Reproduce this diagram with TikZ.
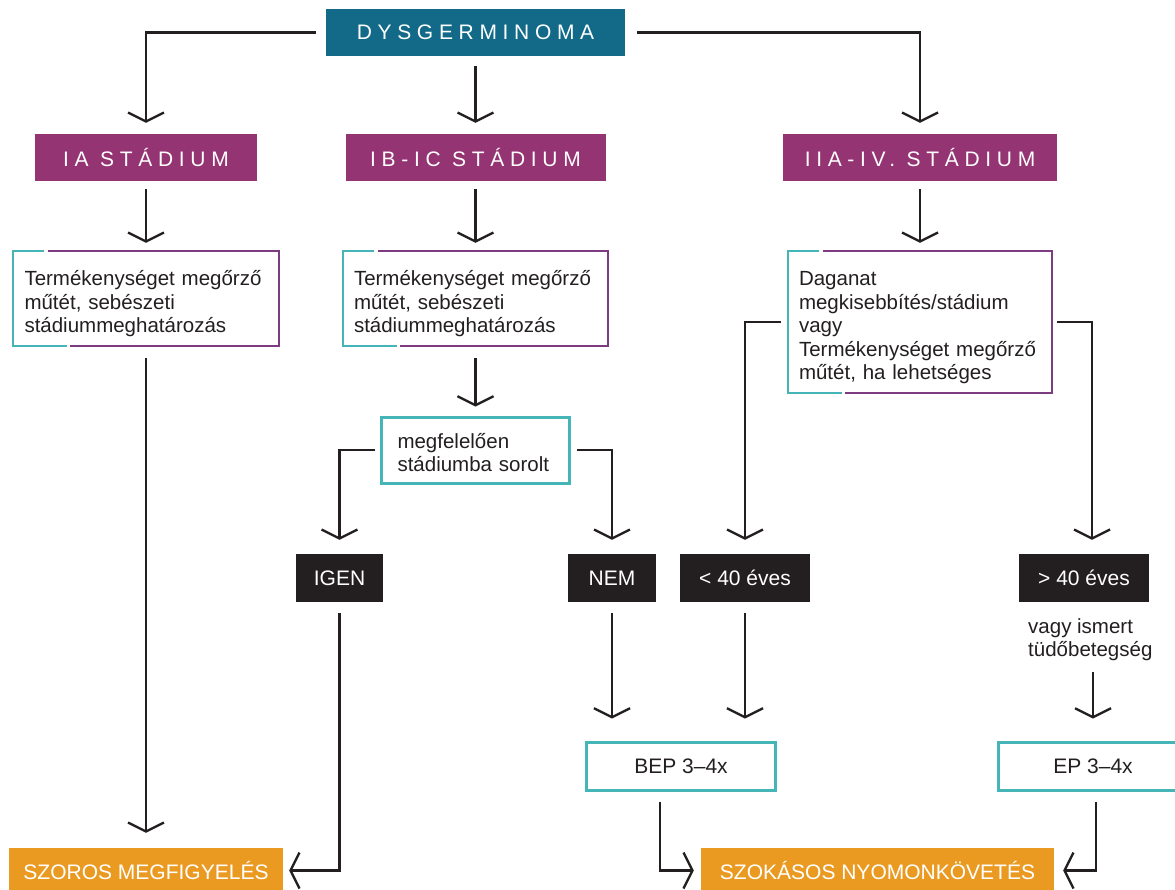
\documentclass[tikz,border=0pt]{standalone}
\usepackage{fontspec}
\setmainfont{Liberation Sans}
\newfontfamily\spacedfont[LetterSpace=27]{Liberation Sans}
\usetikzlibrary{arrows.meta,calc}
\definecolor{dysblue}{HTML}{126A88}
\definecolor{stagepurple}{HTML}{943473}
\definecolor{borderpurple}{HTML}{7D3C82}
\definecolor{bordteal}{HTML}{45B5B8}
\definecolor{ink}{HTML}{231F20}
\definecolor{orangebox}{HTML}{EA9A21}
\newcommand\topgap{\rule{0pt}{26pt}}
\begin{document}
\begin{tikzpicture}[x=1pt,y=-1pt,
  every node/.style={font=\fontsize{21}{23.5}\selectfont, inner sep=0pt, text=ink},
  conn/.style={draw=ink, line width=2.3pt, -{Straight Barb[length=9pt,width=36pt]}},
  headbox/.style={fill=dysblue, text=white, font=\spacedfont\fontsize{21}{23.5}\selectfont, minimum height=47pt},
  stagebox/.style={fill=stagepurple, text=white, font=\spacedfont\fontsize{21}{23.5}\selectfont, minimum height=47pt},
  textbox/.style={align=left, inner xsep=11pt, font=\fontsize{20.5}{23.5}\selectfont},
  tealbox/.style={draw=bordteal, line width=3pt},
  blackbox/.style={fill=ink, text=white, minimum height=48pt},
  orangenode/.style={fill=orangebox, text=white, minimum height=45pt}
]
\path[use as bounding box, clip] (0,0) rectangle (1175,889);

% header and stages
\node[headbox, minimum width=299pt] (dys) at (475.5,32.5) {DYSGERMINOMA};
\node[stagebox, minimum width=222pt] (ia) at (146,157.5) {IA STÁDIUM};
\node[stagebox, minimum width=260pt] (ibic) at (475.5,157.5) {IB-IC STÁDIUM};
\node[stagebox, minimum width=274pt] (iiaiv) at (920,157.5) {IIA-IV. STÁDIUM};

% text boxes
\node[textbox, minimum height=95pt, text width=243pt] (t1) at (146,298.5)
  {\topgap Termékenységet megőrző\\műtét, sebészeti\\stádiummeghatározás};
\node[textbox, minimum height=95pt, text width=243pt] (t2) at (475.5,298.5)
  {\topgap Termékenységet megőrző\\műtét, sebészeti\\stádiummeghatározás};
\node[textbox, minimum height=142pt, text width=242pt] (dag) at (920,322)
  {\topgap Daganat\\megkisebbítés/stádium\\vagy\\Termékenységet megőrző\\műtét, ha lehetséges};
\node[textbox, tealbox, inner xsep=16pt, minimum height=66pt, text width=156pt] (megf) at (475.5,450)
  {\rule{0pt}{20pt}megfelelően\\stádiumba sorolt};

% split borders
\foreach \n in {t1,t2,dag}{
  \draw[bordteal, line width=2pt] ([xshift=31pt]\n.north west) -- (\n.north west) -- (\n.south west) -- ([xshift=54pt]\n.south west);
  \draw[borderpurple, line width=2pt] ([xshift=35pt]\n.north west) -- (\n.north east) -- (\n.south east) -- ([xshift=57pt]\n.south west);
}

% decision boxes
\node[blackbox, minimum width=87pt] (igen) at (339.5,578) {IGEN};
\node[blackbox, minimum width=88pt] (nem) at (612,578) {NEM};
\node[blackbox, minimum width=130pt] (lt40) at (745,578) {< 40 éves};
\node[blackbox, minimum width=130pt] (gt40) at (1084,578) {> 40 éves};
\node[anchor=west, align=left, font=\fontsize{20.5}{23.5}\selectfont] (note) at (1028,639.5) {vagy ismert\\tüdőbetegség};

% therapy boxes
\node[tealbox, minimum width=189pt, minimum height=48pt] (bep) at (681,766) {BEP 3–4x};
\node[tealbox, minimum width=190pt, minimum height=48pt] (ep) at (1093,766) {EP 3–4x};

% outcome boxes
\node[orangenode, minimum width=274pt] (szoros) at (146,870.5) {SZOROS MEGFIGYELÉS};
\node[orangenode, minimum width=353pt] (szok) at (877.5,870.5) {SZOKÁSOS NYOMONKÖVETÉS};

% connectors
\draw[conn] ([xshift=-10pt]dys.west) -| ([yshift=11pt]ia.north);
\draw[conn] ([xshift=12pt]dys.east) -| ([yshift=11pt]iiaiv.north);
\draw[conn] ([yshift=-10pt]dys.south) -- ([yshift=11pt]ibic.north);

\draw[conn] ([yshift=-8pt]ia.south) -- ([yshift=8pt]t1.north);
\draw[conn] ([yshift=-8pt]ibic.south) -- ([yshift=8pt]t2.north);
\draw[conn] ([yshift=-8pt]iiaiv.south) -- ([yshift=8pt]dag.north);

\draw[conn] ([yshift=-12pt]t1.south) -- ([yshift=15pt]szoros.north);
\draw[conn] ([yshift=-12pt]t2.south) -- ([yshift=9pt]megf.north);

\draw[conn] ([xshift=-5pt]megf.west) -| ([yshift=14pt]igen.north);
\draw[conn] ([xshift=6pt]megf.east) -| ([yshift=14pt]nem.north);
\draw[conn] ([xshift=-7pt]dag.west) -| ([yshift=14pt]lt40.north);
\draw[conn] ([xshift=5pt]dag.east) -| ([xshift=8pt,yshift=14pt]gt40.north);

\draw[conn] ([yshift=-11pt]nem.south) -- ($(nem.south |- bep.north)+(0,-22)$);
\draw[conn] ([yshift=-11pt]lt40.south) -- ($(lt40.south |- bep.north)+(0,-22)$);
\draw[conn] ($(note.south -| ep.north)+(0,11)$) -- ([yshift=22pt]ep.north);

\draw[conn] ([yshift=-11pt]igen.south) |- ([xshift=6pt]szoros.east);
\draw[conn] ([xshift=-21pt,yshift=-10pt]bep.south) |- ([xshift=-7pt]szok.west);
\draw[conn] ([xshift=3pt,yshift=-10pt]ep.south) |- ([xshift=9pt]szok.east);
\end{tikzpicture}
\end{document}
